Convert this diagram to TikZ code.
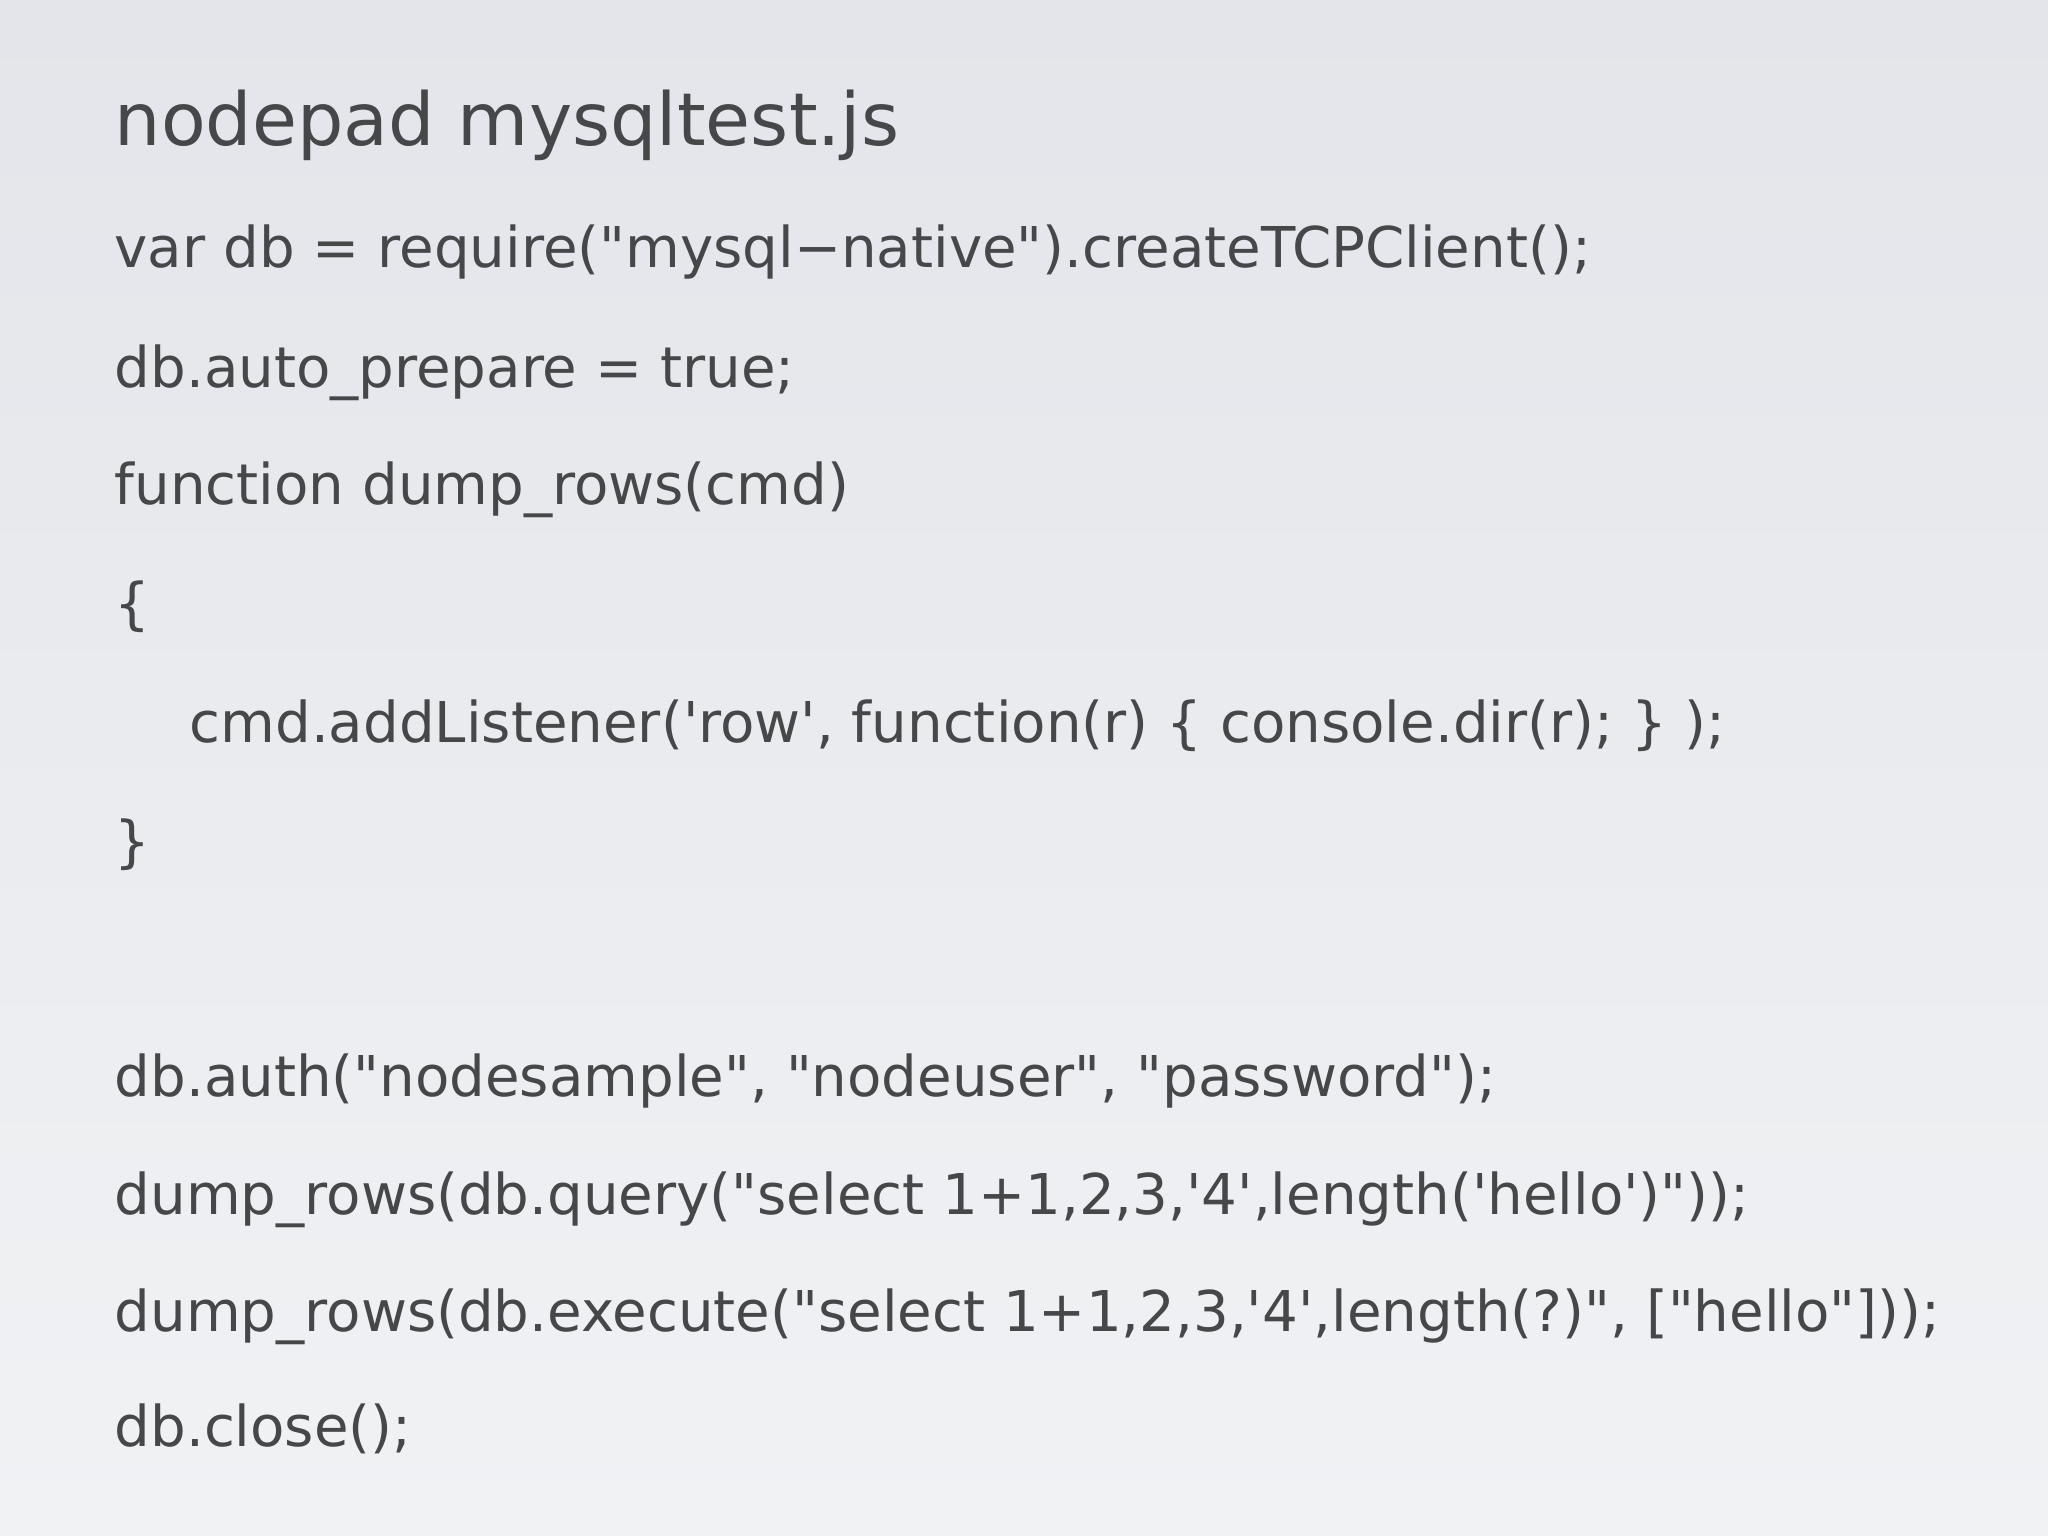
\documentclass[tikz,border=0pt]{standalone}
\usepackage{fontspec}
\setmainfont{DejaVu Sans}[Ligatures=TeXOff]
\definecolor{txt}{HTML}{454749}
\definecolor{bgA}{HTML}{F1F2F4}
\definecolor{bgB}{HTML}{E3E5EA}
\begin{document}
\begin{tikzpicture}[x=1cm,y=1cm,
  code/.style={anchor=base west,inner sep=0pt,text=txt,font=\fontsize{16}{19}\selectfont},
  ttl/.style={anchor=base west,inner sep=0pt,text=txt,font=\fontsize{20.8}{24}\selectfont}]
\useasboundingbox (0,0) rectangle (20.48,15.36);
\shade[top color=bgB,bottom color=bgA,middle color=bgA!50!bgB] (0,0) rectangle (20.48,15.36);
\node[ttl] (t) at (1.14,15.36-1.46) {nodepad mysqltest.js};
\node[code] (l1) at (1.14,15.36-2.68) {var db = require("mysql−native").createTCPClient();};
\node[code] (l2) at (1.14,15.36-3.88) {db.auto\_prepare = true;};
\node[code] (l3) at (1.14,15.36-5.05) {function dump\_rows(cmd)};
\node[code] (l4) at (1.14,15.36-6.24) {\{};
\node[code] (l5) at (1.89,15.36-7.43) {cmd.addListener('row', function(r) \{ console.dir(r); \} );};
\node[code] (l6) at (1.14,15.36-8.62) {\}};
\node[code] (l7) at (1.14,15.36-10.97) {db.auth("nodesample", "nodeuser", "password");};
\node[code] (l8) at (1.14,15.36-12.15) {dump\_rows(db.query("select 1+1,2,3,'4',length('hello')"));};
\node[code] (l9) at (1.14,15.36-13.32) {dump\_rows(db.execute("select 1+1,2,3,'4',length(?)", ["hello"]));};
\node[code] (l10) at (1.14,15.36-14.47) {db.close();};
\end{tikzpicture}
\end{document}
